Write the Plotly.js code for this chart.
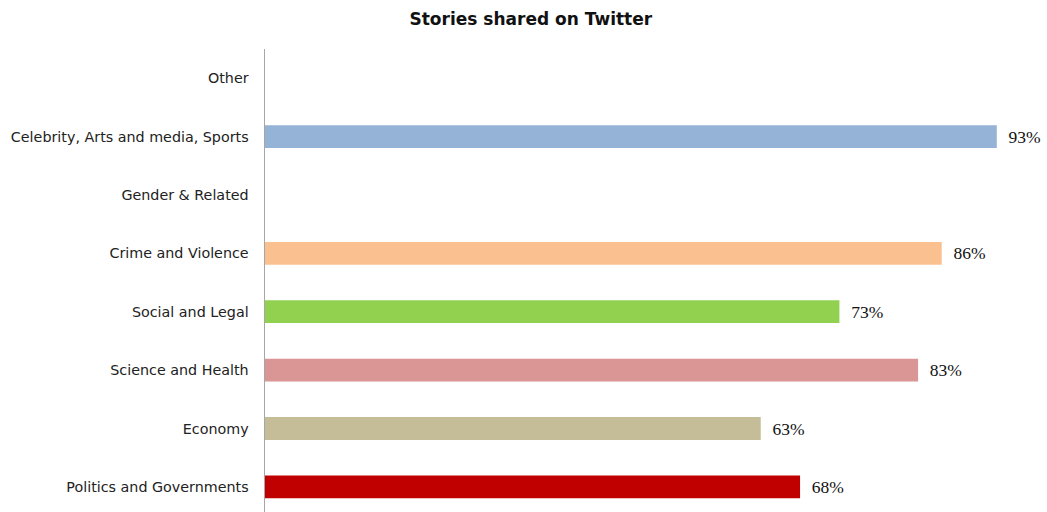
<!DOCTYPE html>
<html>
<head>
<meta charset="utf-8">
<script src="https://cdn.plot.ly/plotly-3.0.1.min.js"></script>
<style>html,body{margin:0;padding:0;background:#fff;}#chart{width:1047px;height:512px;}</style>
</head>
<body>
<div id="chart"></div>
<script>
var categories = ["Politics and Governments", "Economy", "Science and Health", "Social and Legal", "Crime and Violence", "Gender & Related", "Celebrity, Arts and media, Sports", "Other"];
var values = [68, 63, 83, 73, 86, null, 93, null];
var valueLabels = ["68%", "63%", "83%", "73%", "86%", "", "93%", ""];
var barColors = ["#C00000", "#C4BD97", "#D99694", "#92D050", "#FAC090", "#8EB4E3", "#95B3D7", "#95B3D7"];

var trace = {
  type: 'bar',
  orientation: 'h',
  y: categories,
  x: values,
  text: valueLabels,
  texttemplate: '\u00a0\u00a0%{text}',
  textposition: 'outside',
  cliponaxis: false,
  textfont: {family: 'Liberation Serif, DejaVu Serif, serif', size: 17.5, color: '#111'},
  marker: {color: barColors},
  width: 0.39,
  hoverinfo: 'none'
};

var layout = {
  width: 1047,
  height: 512,
  margin: {l: 265, r: 3, t: 49, b: 0, pad: 0},
  paper_bgcolor: '#fff',
  plot_bgcolor: '#fff',
  showlegend: false,
  title: {
    text: '<b>Stories shared on Twitter</b>',
    font: {family: 'DejaVu Sans, sans-serif', size: 17, color: '#111'},
    x: 0.507, xanchor: 'center', y: 0.963, yanchor: 'middle'
  },
  xaxis: {
    range: [0, 99],
    showgrid: false, zeroline: false, showline: false,
    showticklabels: false, ticks: ''
  },
  yaxis: {
    type: 'category',
    categoryorder: 'array',
    categoryarray: categories,
    range: [-0.43, 7.5],
    showgrid: false, zeroline: false,
    showline: true, linecolor: '#A6A6A6', linewidth: 1.5,
    ticks: 'outside', ticklen: 12, tickcolor: 'rgba(0,0,0,0)',
    tickfont: {family: 'DejaVu Sans, sans-serif', size: 14.3, color: '#222'}
  }
};

Plotly.newPlot('chart', [trace], layout, {displayModeBar: false, staticPlot: true});
</script>
</body>
</html>
